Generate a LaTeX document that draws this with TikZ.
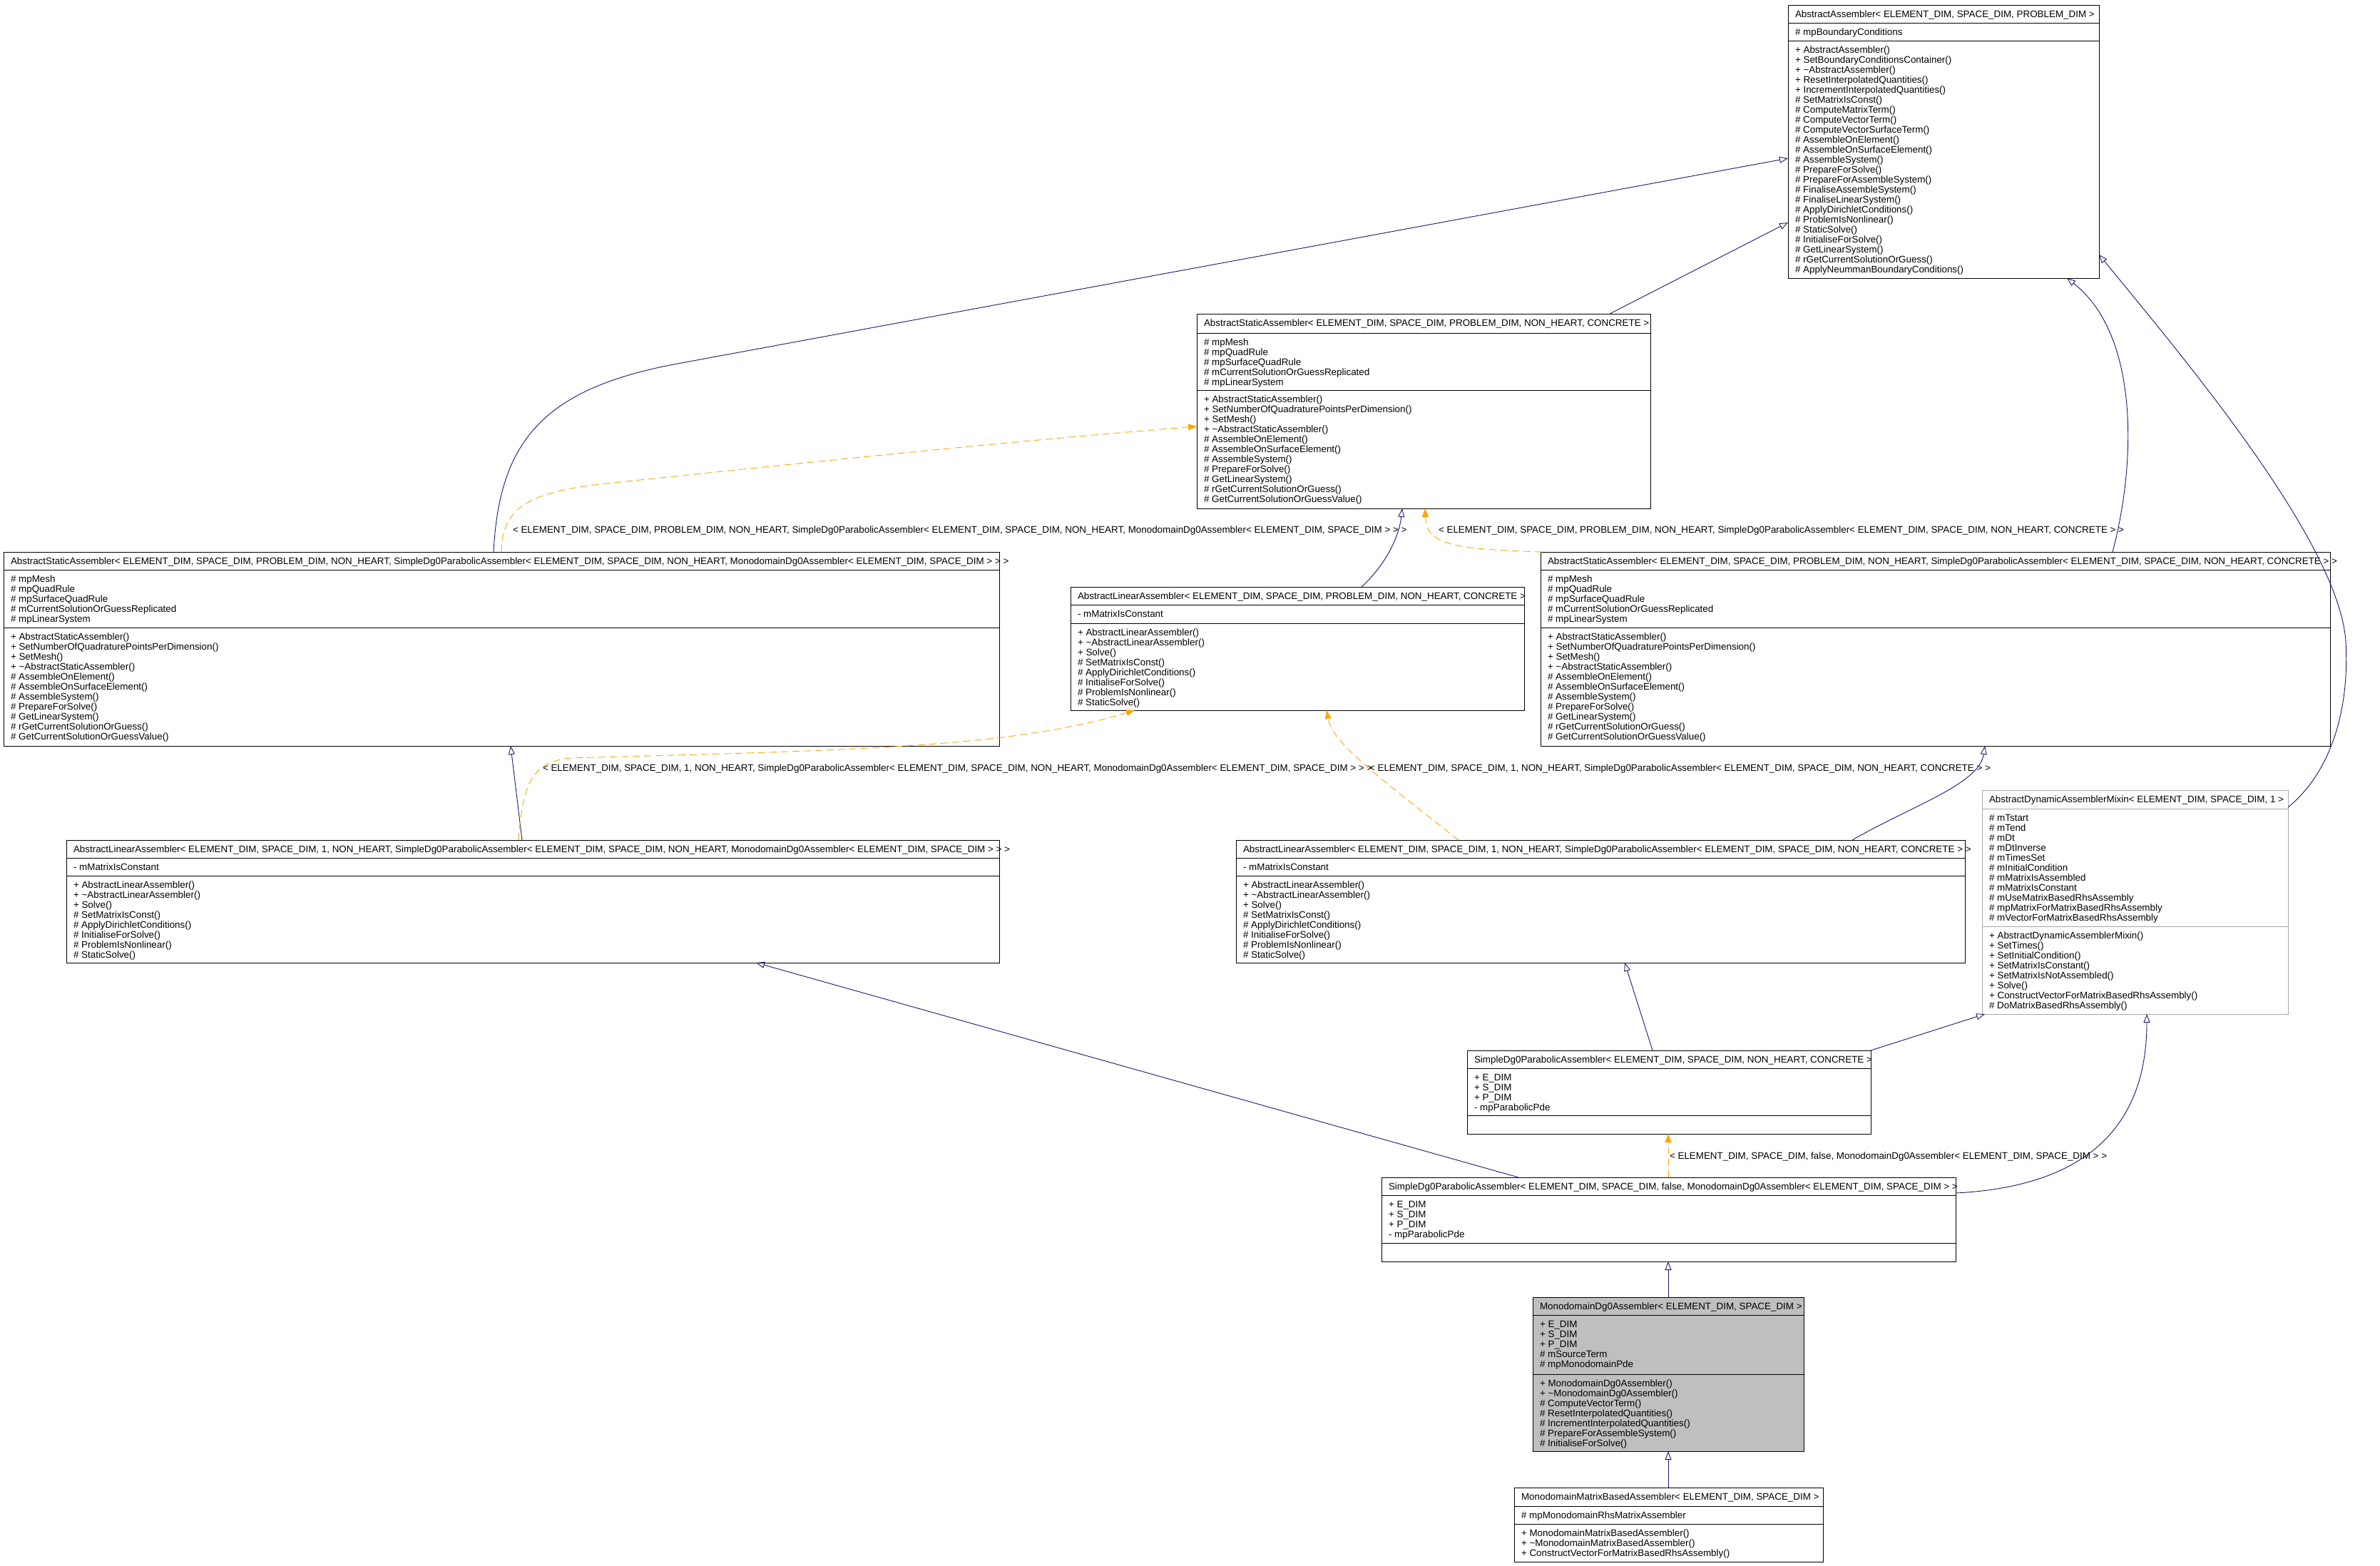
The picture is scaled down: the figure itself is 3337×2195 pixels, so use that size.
\documentclass[tikz,border=0pt]{standalone}
\usepackage{fontspec}
\setmainfont{Liberation Sans}
\usetikzlibrary{arrows.meta}
\definecolor{dblue}{HTML}{191970}
\definecolor{orng}{HTML}{FFA500}
\definecolor{kgrey}{HTML}{BFBFBF}
\definecolor{fgrey}{HTML}{A8A8A8}
\newcommand\xED{ELEMENT\_DIM}
\newcommand\xSD{SPACE\_DIM}
\newcommand\xPD{PROBLEM\_DIM}
\newcommand\xNH{NON\_HEART}
\newcommand\xtl{\textasciitilde}
\tikzset{
  txt/.style={anchor=base west, inner sep=0pt, outer sep=0pt, font=\fontsize{13.4}{14}\selectfont},
  classframe/.style={anchor=north west, inner sep=0pt, outer sep=0pt, line width=1pt},
  plainframe/.style={draw=black, fill=white},
  plainsep/.style={draw=black, line width=1pt},
  greyframe/.style={draw=black, fill=kgrey},
  greysep/.style={draw=black, line width=1pt},
  fadedframe/.style={draw=fgrey, fill=white},
  fadedsep/.style={draw=fgrey, line width=1pt},
  inh/.style={draw=dblue, line width=0.9pt, -{Triangle[open, length=12pt, width=9pt]}},
  tmpl/.style={draw=orng, line width=0.9pt, dash pattern=on 10pt off 6pt, -{Triangle[length=12pt, width=9pt, fill=orng]}},
}
\newcommand\classbox[9]{%
  \node[classframe, #2frame, minimum width={(#4-#3)*1pt}, minimum height={(#8-#5)*1pt}] (#1) at (#3,#5) {};
  \draw[#2sep] (#3,#6) -- (#4,#6) (#3,#7) -- (#4,#7);
  \node[txt] (#1-title) at ({#3+10},{#5+17}) {#9};
}
\newcommand\classlines[4]{%
  \foreach \myline [count=\k from 1] in {#4} {\node[txt] (#1-\k) at ({#2},{#3+14*(\k-1)}) {\myline};}
}
\begin{document}
\begin{tikzpicture}[x=1pt, y=-1pt]
\fill[white] (0,0) rectangle (3337,2195);
\useasboundingbox (0,0) rectangle (3337,2195);

% ---------- A
\classbox{A}{plain}{2507}{2943}{7}{32}{57}{390}{AbstractAssembler< \xED, \xSD, \xPD{} >}
\classlines{A-a}{2517}{49}{\# mpBoundaryConditions}
\classlines{A-m}{2517}{74}{+ AbstractAssembler(), + SetBoundaryConditionsContainer(), + \xtl AbstractAssembler(), + ResetInterpolatedQuantities(), + IncrementInterpolatedQuantities(), \# SetMatrixIsConst(), \# ComputeMatrixTerm(), \# ComputeVectorTerm(), \# ComputeVectorSurfaceTerm(), \# AssembleOnElement(), \# AssembleOnSurfaceElement(), \# AssembleSystem(), \# PrepareForSolve(), \# PrepareForAssembleSystem(), \# FinaliseAssembleSystem(), \# FinaliseLinearSystem(), \# ApplyDirichletConditions(), \# ProblemIsNonlinear(), \# StaticSolve(), \# InitialiseForSolve(), \# GetLinearSystem(), \# rGetCurrentSolutionOrGuess(), \# ApplyNeummanBoundaryConditions()}

% ---------- B
\classbox{B}{plain}{1678}{2314}{440}{467}{547}{713}{AbstractStaticAssembler< \xED, \xSD, \xPD, \xNH, CONCRETE >}
\classlines{B-a}{1688}{484}{\# mpMesh, \# mpQuadRule, \# mpSurfaceQuadRule, \# mCurrentSolutionOrGuessReplicated, \# mpLinearSystem}
\classlines{B-m}{1688}{564}{+ AbstractStaticAssembler(), + SetNumberOfQuadraturePointsPerDimension(), + SetMesh(), + \xtl AbstractStaticAssembler(), \# AssembleOnElement(), \# AssembleOnSurfaceElement(), \# AssembleSystem(), \# PrepareForSolve(), \# GetLinearSystem(), \# rGetCurrentSolutionOrGuess(), \# GetCurrentSolutionOrGuessValue()}

% ---------- C
\classbox{C}{plain}{5}{1401}{774}{799}{880}{1046}{AbstractStaticAssembler< \xED, \xSD, \xPD, \xNH, SimpleDg0ParabolicAssembler< \xED, \xSD, \xNH, MonodomainDg0Assembler< \xED, \xSD{} > > >}
\classlines{C-a}{15}{816}{\# mpMesh, \# mpQuadRule, \# mpSurfaceQuadRule, \# mCurrentSolutionOrGuessReplicated, \# mpLinearSystem}
\classlines{C-m}{15}{897}{+ AbstractStaticAssembler(), + SetNumberOfQuadraturePointsPerDimension(), + SetMesh(), + \xtl AbstractStaticAssembler(), \# AssembleOnElement(), \# AssembleOnSurfaceElement(), \# AssembleSystem(), \# PrepareForSolve(), \# GetLinearSystem(), \# rGetCurrentSolutionOrGuess(), \# GetCurrentSolutionOrGuessValue()}

% ---------- D
\classbox{D}{plain}{1501}{2137}{823}{848}{874}{996}{AbstractLinearAssembler< \xED, \xSD, \xPD, \xNH, CONCRETE >}
\classlines{D-a}{1511}{865}{- mMatrixIsConstant}
\classlines{D-m}{1511}{891}{+ AbstractLinearAssembler(), + \xtl AbstractLinearAssembler(), + Solve(), \# SetMatrixIsConst(), \# ApplyDirichletConditions(), \# InitialiseForSolve(), \# ProblemIsNonlinear(), \# StaticSolve()}

% ---------- E
\classbox{E}{plain}{2160}{3267}{774}{799}{880}{1046}{AbstractStaticAssembler< \xED, \xSD, \xPD, \xNH, SimpleDg0ParabolicAssembler< \xED, \xSD, \xNH, CONCRETE > >}
\classlines{E-a}{2170}{816}{\# mpMesh, \# mpQuadRule, \# mpSurfaceQuadRule, \# mCurrentSolutionOrGuessReplicated, \# mpLinearSystem}
\classlines{E-m}{2170}{897}{+ AbstractStaticAssembler(), + SetNumberOfQuadraturePointsPerDimension(), + SetMesh(), + \xtl AbstractStaticAssembler(), \# AssembleOnElement(), \# AssembleOnSurfaceElement(), \# AssembleSystem(), \# PrepareForSolve(), \# GetLinearSystem(), \# rGetCurrentSolutionOrGuess(), \# GetCurrentSolutionOrGuessValue()}

% ---------- F
\classbox{F}{faded}{2779}{3208}{1108}{1134}{1299}{1422}{AbstractDynamicAssemblerMixin< \xED, \xSD, 1 >}
\classlines{F-a}{2789}{1151}{\# mTstart, \# mTend, \# mDt, \# mDtInverse, \# mTimesSet, \# mInitialCondition, \# mMatrixIsAssembled, \# mMatrixIsConstant, \# mUseMatrixBasedRhsAssembly, \# mpMatrixForMatrixBasedRhsAssembly, \# mVectorForMatrixBasedRhsAssembly}
\classlines{F-m}{2789}{1316}{+ AbstractDynamicAssemblerMixin(), + SetTimes(), + SetInitialCondition(), + SetMatrixIsConstant(), + SetMatrixIsNotAssembled(), + Solve(), + ConstructVectorForMatrixBasedRhsAssembly(), \# DoMatrixBasedRhsAssembly()}

% ---------- G
\classbox{G}{plain}{93}{1401}{1178}{1203}{1228}{1350}{AbstractLinearAssembler< \xED, \xSD, 1, \xNH, SimpleDg0ParabolicAssembler< \xED, \xSD, \xNH, MonodomainDg0Assembler< \xED, \xSD{} > > >}
\classlines{G-a}{103}{1220}{- mMatrixIsConstant}
\classlines{G-m}{103}{1245}{+ AbstractLinearAssembler(), + \xtl AbstractLinearAssembler(), + Solve(), \# SetMatrixIsConst(), \# ApplyDirichletConditions(), \# InitialiseForSolve(), \# ProblemIsNonlinear(), \# StaticSolve()}

% ---------- H
\classbox{H}{plain}{1733}{2755}{1178}{1203}{1228}{1350}{AbstractLinearAssembler< \xED, \xSD, 1, \xNH, SimpleDg0ParabolicAssembler< \xED, \xSD, \xNH, CONCRETE > >}
\classlines{H-a}{1743}{1220}{- mMatrixIsConstant}
\classlines{H-m}{1743}{1245}{+ AbstractLinearAssembler(), + \xtl AbstractLinearAssembler(), + Solve(), \# SetMatrixIsConst(), \# ApplyDirichletConditions(), \# InitialiseForSolve(), \# ProblemIsNonlinear(), \# StaticSolve()}

% ---------- I
\classbox{I}{plain}{2057}{2623}{1473}{1498}{1564}{1590}{SimpleDg0ParabolicAssembler< \xED, \xSD, \xNH, CONCRETE >}
\classlines{I-a}{2067}{1515}{+ E\_DIM, + S\_DIM, + P\_DIM, - mpParabolicPde}

% ---------- J
\classbox{J}{plain}{1937}{2742}{1651}{1676}{1743}{1769}{SimpleDg0ParabolicAssembler< \xED, \xSD, false, MonodomainDg0Assembler< \xED, \xSD{} > >}
\classlines{J-a}{1947}{1693}{+ E\_DIM, + S\_DIM, + P\_DIM, - mpParabolicPde}

% ---------- K
\classbox{K}{grey}{2149}{2529}{1819}{1844}{1927}{2035}{MonodomainDg0Assembler< \xED, \xSD{} >}
\classlines{K-a}{2159}{1861}{+ E\_DIM, + S\_DIM, + P\_DIM, \# mSourceTerm, \# mpMonodomainPde}
\classlines{K-m}{2159}{1944}{+ MonodomainDg0Assembler(), + \xtl MonodomainDg0Assembler(), \# ComputeVectorTerm(), \# ResetInterpolatedQuantities(), \# IncrementInterpolatedQuantities(), \# PrepareForAssembleSystem(), \# InitialiseForSolve()}

% ---------- L
\classbox{L}{plain}{2123}{2556}{2086}{2112}{2137}{2190}{MonodomainMatrixBasedAssembler< \xED, \xSD{} >}
\classlines{L-a}{2133}{2129}{\# mpMonodomainRhsMatrixAssembler}
\classlines{L-m}{2133}{2154}{+ MonodomainMatrixBasedAssembler(), + \xtl MonodomainMatrixBasedAssembler(), + ConstructVectorForMatrixBasedRhsAssembly()}

% ---------- inheritance connectors
\draw[inh] ([xshift=579pt]B.north west) -- ([yshift=-305pt]A.north west);
\draw[inh] ([xshift=687pt]C.north west) .. controls (700,620) and (760,545) .. (950,510) -- ([yshift=-215pt]A.north west);
\draw[inh] ([xshift=802pt]E.north west) .. controls (2995,650) and (3000,470) .. ([xshift=391pt]A.south west);
\draw[inh] ([yshift=-24pt]F.north east) .. controls (3260,1090) and (3295,1010) .. (3289,900) .. controls (3280,760) and (3060,500) .. ([yshift=-350pt]A.north east);
\draw[inh] ([xshift=408pt]D.north west) .. controls (1945,790) and (1962,750) .. ([xshift=288pt]B.south west);
\draw[inh] ([xshift=639pt]G.north west) -- ([xshift=711pt]C.south west);
\draw[inh] ([xshift=864pt]H.north west) .. controls (2680,1130) and (2775,1100) .. ([xshift=623pt]E.south west);
\draw[inh] ([xshift=260pt]I.north west) -- ([xshift=545pt]H.south west);
\draw[inh] (I.north east) -- ([xshift=4pt]F.south west);
\draw[inh] ([xshift=192pt]J.north west) -- ([xshift=967pt]G.south west);
\draw[inh] ([yshift=-22pt]J.north east) .. controls (2900,1665) and (3010,1600) .. ([xshift=231pt]F.south west);
\draw[inh] ([xshift=190pt]K.north west) -- ([xshift=402pt]J.south west);
\draw[inh] ([xshift=216pt]L.north west) -- ([xshift=190pt]K.south west);

% ---------- template connectors
\draw[tmpl] ([xshift=698pt]C.north west) .. controls (704,712) and (740,690) .. (850,678) .. controls (1100,652) and (1400,620) .. ([yshift=-158pt]B.north west);
\draw[tmpl] ([xshift=2pt]E.north west) .. controls (2040,770) and (2000,765) .. ([xshift=320pt]B.south west);
\draw[tmpl] ([xshift=634pt]G.north west) .. controls (733,1100) and (745,1068) .. (800,1063) .. controls (1200,1052) and (1420,1048) .. ([xshift=90pt]D.south west);
\draw[tmpl] ([xshift=312pt]H.north west) .. controls (1920,1080) and (1868,1040) .. ([xshift=359pt]D.south west);
\draw[tmpl] ([xshift=402pt]J.north west) -- ([xshift=282pt]I.south west);

% ---------- template labels
\node[txt] (lab1) at (719,747) {< \xED, \xSD, \xPD, \xNH, SimpleDg0ParabolicAssembler< \xED, \xSD, \xNH, MonodomainDg0Assembler< \xED, \xSD{} > > >};
\node[txt] (lab2) at (2017,747) {< \xED, \xSD, \xPD, \xNH, SimpleDg0ParabolicAssembler< \xED, \xSD, \xNH, CONCRETE > >};
\node[txt] (lab3) at (761,1081) {< \xED, \xSD, 1, \xNH, SimpleDg0ParabolicAssembler< \xED, \xSD, \xNH, MonodomainDg0Assembler< \xED, \xSD{} > > >};
\node[txt] (lab4) at (1920,1081) {< \xED, \xSD, 1, \xNH, SimpleDg0ParabolicAssembler< \xED, \xSD, \xNH, CONCRETE > >};
\node[txt] (lab5) at (2341,1625) {< \xED, \xSD, false, MonodomainDg0Assembler< \xED, \xSD{} > >};
\end{tikzpicture}
\end{document}
